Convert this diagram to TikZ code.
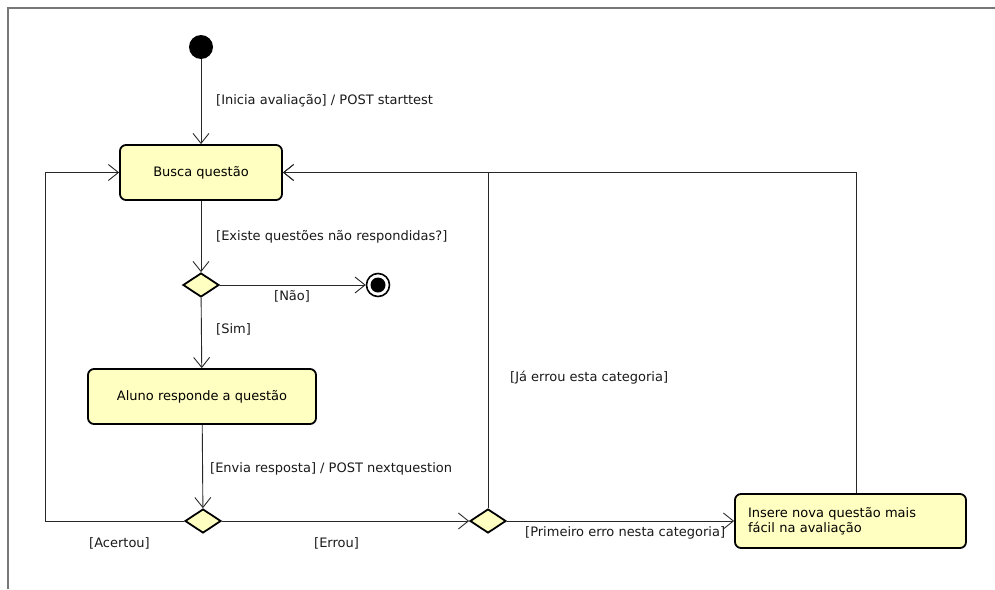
\documentclass[tikz,border=0pt]{standalone}
\usepackage{fontspec}
\setmainfont{DejaVu Sans}
\usetikzlibrary{arrows.meta,shapes.geometric}
\definecolor{stateyellow}{RGB}{255,255,194}
\definecolor{framegray}{RGB}{120,120,120}
\definecolor{linegray}{RGB}{40,40,40}
\tikzset{
  every node/.style={font=\fontsize{13}{15.5}\selectfont},
  statebox/.style={draw=black, line width=1.8pt, fill=stateyellow, rounded corners=6pt, inner sep=0pt, align=center},
  choice/.style={diamond, draw=black, line width=1.8pt, fill=stateyellow, minimum width=36pt, minimum height=24pt, inner sep=0pt, aspect=1.5},
  flow/.style={draw=linegray, line width=0.9pt, -{Straight Barb[length=10pt,width=16pt,line width=0.9pt]}},
  guard/.style={anchor=west, inner sep=0pt, text=black!90}
}
\begin{document}
\begin{tikzpicture}[x=1pt, y=-1pt]
  \useasboundingbox (0,0) rectangle (995,589);
  % enclosing frame (open to the right and bottom)
  \draw[framegray, line width=2pt] (8,589) -- (8,8) -- (995,8);

  % states
  \node[circle, fill=black, minimum size=24pt, inner sep=0pt] (init) at (201,47) {};
  \node[statebox, minimum width=162pt, minimum height=55pt] (busca) at (201,172.5) {Busca questão};
  \node[choice] (d1) at (201,285) {};
  \node[circle, draw=black, line width=1.6pt, fill=white, minimum size=23pt, inner sep=0pt] (final) at (378,285) {};
  \fill[black] (final.center) circle (7.5pt);
  \node[statebox, minimum width=228pt, minimum height=55pt] (aluno) at (202,396.5) {Aluno responde a questão};
  \node[choice] (d2) at (203,521) {};
  \node[choice] (d3) at (488,521) {};
  \node[statebox, minimum width=231pt, minimum height=54pt, text width=205pt, align=left] (insere) at (850.5,521)
    {Insere nova questão mais\\fácil na avaliação};

  % bend points
  \coordinate (leftrail) at (45,521);
  \coordinate (rightrail) at (856,172.5);

  % transitions
  \draw[flow] (init) -- (busca);
  \draw[flow] (busca) -- (d1);
  \draw[flow] (d1) -- (final);
  \draw[flow] (d1) -- (aluno);
  \draw[flow] (aluno) -- (d2);
  \draw[flow] (d2.west) -- (leftrail) |- (busca.west);
  \draw[flow] (d2.east) -- (d3.west);
  \draw[flow] (d3.north) |- (busca.east);
  \draw[flow] (d3.east) -- (insere.west);
  \draw[flow] (rightrail |- insere.north) -- (rightrail) -- (busca.east);

  % guards and effects
  \node[guard] (l1) at (216,101) {[Inicia avaliação] / POST starttest};
  \node[guard] (l2) at (216,237) {[Existe questões não respondidas?]};
  \node[guard] (l3) at (274,296) {[Não]};
  \node[guard] (l4) at (216,329) {[Sim]};
  \node[guard] (l5) at (210,469) {[Envia resposta] / POST nextquestion};
  \node[guard] (l6) at (89,543) {[Acertou]};
  \node[guard] (l7) at (314,543) {[Errou]};
  \node[guard] (l8) at (510,378) {[Já errou esta categoria]};
  \node[guard] (l9) at (525,533) {[Primeiro erro nesta categoria]};
\end{tikzpicture}
\end{document}
